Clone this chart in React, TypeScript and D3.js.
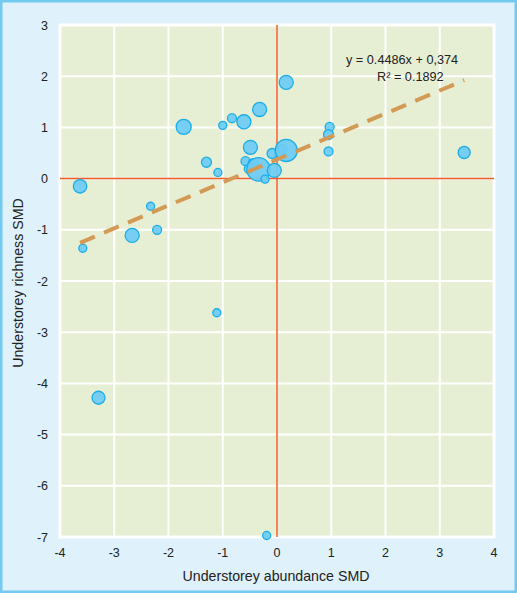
import React from "react";
import * as d3 from "d3";

const abundance = [-3.63, -3.58, -2.33, -2.67, -2.21, -1.72, -1.30, -1.09, -1.0, -0.83, -0.61, -0.32, 0.17, -0.49, -0.58, -0.52, -0.44, -0.34, -0.05, -0.22, -0.09, 0.10, 0.17, 0.97, 0.95, 0.95, 3.45, -1.11, -3.29, -0.19];
const richness = [-0.15, -1.36, -0.54, -1.11, -1.0, 1.01, 0.32, 0.12, 1.04, 1.18, 1.11, 1.35, 1.88, 0.61, 0.34, 0.19, 0.29, 0.18, 0.16, -0.01, 0.49, 0.57, 0.55, 1.01, 0.86, 0.53, 0.51, -2.62, -4.28, -6.97];
const weight = [45, 16, 16, 49, 20, 56, 25, 16, 16, 20, 49, 49, 49, 49, 20, 20, 25, 136, 49, 16, 25, 20, 121, 20, 25, 20, 36, 16, 42, 16];
const xTicks = [-4, -3, -2, -1, 0, 1, 2, 3, 4];
const yTicks = [3, 2, 1, 0, -1, -2, -3, -4, -5, -6, -7];
const slope = 0.4486;
const intercept = 0.374;
const eqLabel = "y = 0.4486x + 0,374";
const r2Label = "R² = 0.1892";
const xTitle = "Understorey abundance SMD";
const yTitle = "Understorey richness SMD";

export default function App() {
  const W = 517, H = 593;
  const left = 60, right = 494, top = 25, bottom = 537;
  const x = d3.scaleLinear().domain([-4, 4]).range([left, right]);
  const y = d3.scaleLinear().domain([-7, 3]).range([bottom, top]);
  const r = d3.scaleSqrt().domain([0, 136]).range([0, 11.7]);
  const font = "'Liberation Sans', Arial, sans-serif";
  const xMin = d3.min(abundance)!;
  const xMax = d3.max(abundance)!;
  const line = d3.line<number>().x((d) => x(d)).y((d) => y(slope * d + intercept));
  const pts = abundance.map((a, i) => ({ a, b: richness[i], w: weight[i] }));

  return (
    <div style={{ position: "fixed", left: 0, top: 0 }}>
      <svg width={W} height={H} style={{ display: "block" }}>
        <rect x={1.25} y={1.25} width={W - 2.5} height={H - 2.5} fill="#dff1fb" stroke="#74c9ef" strokeWidth={2.5} />
        <rect x={left} y={top} width={right - left} height={bottom - top} fill="#e6eed4" stroke="#ffffff" strokeWidth={3} />
        {xTicks.map((t) => (
          <line key={"gx" + t} x1={x(t)} x2={x(t)} y1={top} y2={bottom} stroke="#ffffff" strokeWidth={2} />
        ))}
        {yTicks.map((t) => (
          <line key={"gy" + t} x1={left} x2={right} y1={y(t)} y2={y(t)} stroke="#ffffff" strokeWidth={2} />
        ))}
        <line x1={x(0)} x2={x(0)} y1={top} y2={bottom} stroke="#f05a28" strokeWidth={1.5} />
        <line x1={left} x2={right} y1={y(0)} y2={y(0)} stroke="#f05a28" strokeWidth={1.5} />
        {pts.map((p, i) => (
          <circle key={i} cx={x(p.a)} cy={y(p.b)} r={r(p.w)} fill="#6ccbf4" fillOpacity={0.92} stroke="#1aaee9" strokeWidth={1.3} />
        ))}
        <path d={line([xMin, xMax]) || ""} fill="none" stroke="#d29a55" strokeWidth={4} strokeDasharray="16 10" />
        <text x={346} y={64} fontFamily={font} fontSize={12.7} fill="#222">{eqLabel}</text>
        <text x={377} y={81} fontFamily={font} fontSize={12.7} fill="#222">{r2Label}</text>
        {yTicks.map((t) => (
          <text key={"ty" + t} x={48} y={y(t) + 4.5} textAnchor="end" fontFamily={font} fontSize={12.5} fill="#222">{t}</text>
        ))}
        {xTicks.map((t) => (
          <text key={"tx" + t} x={x(t)} y={557} textAnchor="middle" fontFamily={font} fontSize={12.5} fill="#222">{t}</text>
        ))}
        <text x={(left + right) / 2 - 1} y={581} textAnchor="middle" fontFamily={font} fontSize={14.2} fill="#222">{xTitle}</text>
        <text transform={`translate(23,${(top + bottom) / 2 + 2}) rotate(-90)`} textAnchor="middle" fontFamily={font} fontSize={14.2} fill="#222">{yTitle}</text>
      </svg>
    </div>
  );
}
